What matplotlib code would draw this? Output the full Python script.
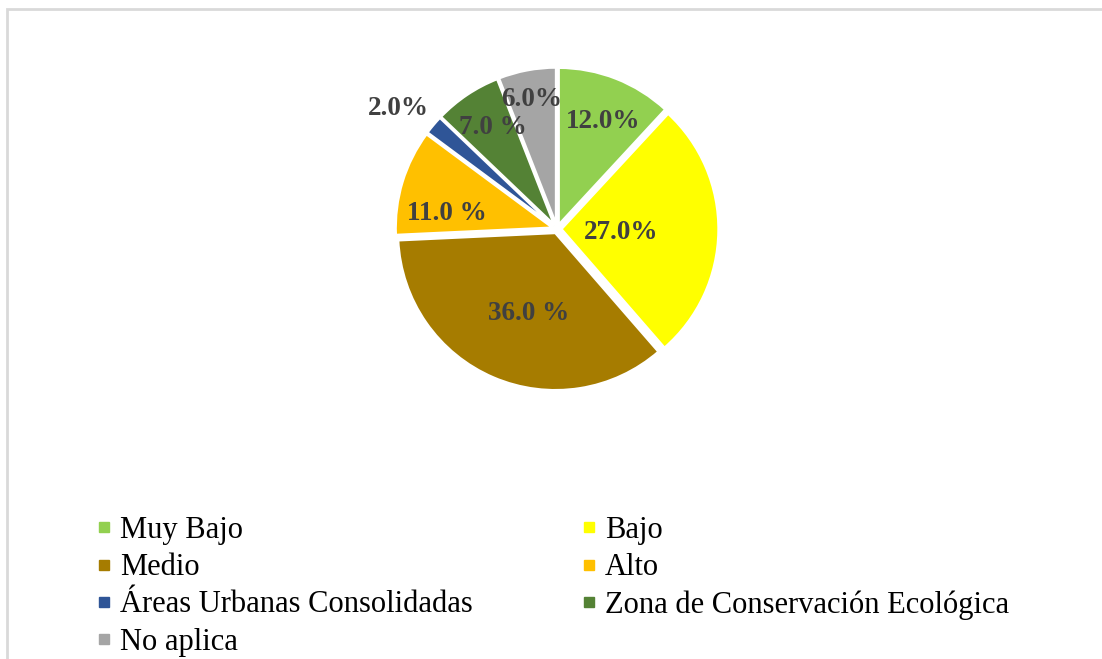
import numpy as np
import matplotlib.pyplot as plt
from matplotlib.lines import Line2D
from matplotlib.patches import Rectangle
from matplotlib.transforms import offset_copy

categories = ["Muy Bajo", "Bajo", "Medio", "Alto",
              "Áreas Urbanas Consolidadas", "Zona de Conservación Ecológica", "No aplica"]
values = [12.0, 27.0, 36.0, 11.0, 2.0, 7.0, 6.0]
labels = ["12.0%", "27.0%", "36.0 %", "11.0 %", "2.0%", "7.0 %", "6.0%"]
colors = ["#92d050", "#ffff00", "#a67c00", "#ffc000", "#2f5597", "#548235", "#a5a5a5"]

# value label placement: distance from centre (fraction of radius)
# and a small angular nudge off the wedge middle (degrees)
label_r = [0.73, 0.39, 0.52, 0.68, 1.22, 0.745, 0.82]
label_nudge = [-1, 1, 4, 7, 2, -2.5, 0]

plt.rcParams['font.family'] = ['Liberation Serif', 'DejaVu Serif']

fig = plt.figure(figsize=(11.02, 6.59), dpi=100)

# light grey chart border, running off the right and bottom edges
fig.patches.append(Rectangle((7 / 1102, -0.05), 1.2, 1 - 9 / 659 + 0.05,
                             transform=fig.transFigure, fill=False,
                             edgecolor="#d9d9d9", linewidth=2))

ax = fig.add_axes([(557 - 165) / 1102, 1 - (229 + 165) / 659, 330 / 1102, 330 / 659])
wedges, _ = ax.pie(values, colors=colors, startangle=90, counterclock=False,
                   explode=[0.025] * len(values), radius=0.955,
                   wedgeprops=dict(edgecolor="white", linewidth=2))
ax.set_xlim(-1, 1)
ax.set_ylim(-1, 1)
ax.set_aspect("equal")

txt_tr = offset_copy(ax.transData, fig=fig, x=0, y=-2.5, units="points")
for w, lab, r, nd in zip(wedges, labels, label_r, label_nudge):
    mid = np.deg2rad((w.theta1 + w.theta2) / 2 + nd)
    ax.text(r * np.cos(mid), r * np.sin(mid), lab, ha="center", va="center",
            fontsize=19.5, fontweight="bold", color="#404040", transform=txt_tr)

# legend reads row by row: reorder for matplotlib's column-first filling
order = [0, 2, 4, 6, 1, 3, 5]
handles = [Line2D([], [], linestyle="none", marker="s", markersize=6.5,
                  markerfacecolor=colors[i], markeredgecolor=colors[i]) for i in order]
fig.legend(handles, [categories[i] for i in order], ncol=2, loc="upper left",
           bbox_to_anchor=(96 / 1102, 1 - 516 / 659), frameon=False,
           fontsize=22, handlelength=0.5, handletextpad=0.28,
           columnspacing=3.55, labelspacing=0.27, borderpad=0, borderaxespad=0)

fig.savefig("out.png", dpi=100)
